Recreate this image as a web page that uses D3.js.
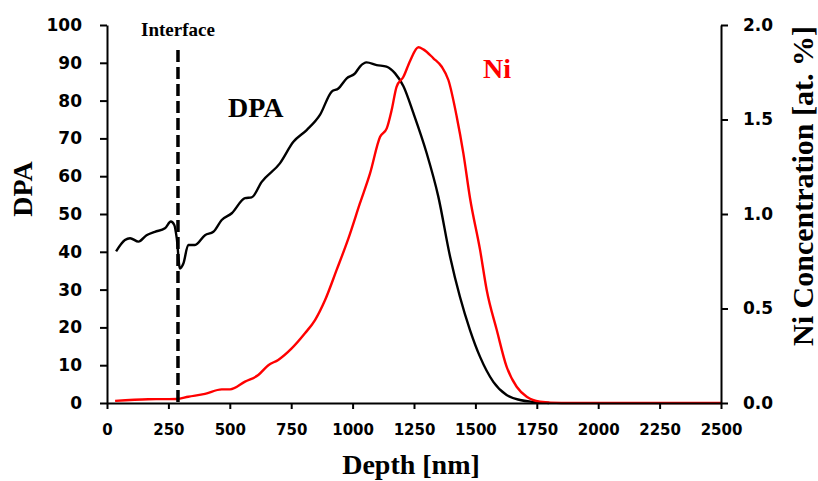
<!DOCTYPE html>
<html>
<head>
<meta charset="utf-8">
<script src="https://cdn.jsdelivr.net/npm/d3@7"></script>
<style>
  html, body { margin: 0; padding: 0; background: #fff; }
  svg { display: block; }
  .tick text { font-family: "DejaVu Sans", sans-serif; font-weight: bold; fill: #000; }
  .serif { font-family: "Liberation Serif", "Times New Roman", serif; font-weight: bold; }
</style>
</head>
<body>
<svg id="chart" width="818" height="481"></svg>
<script>
// Displacement damage (DPA) profile vs depth
const dpaDepth = [37, 73, 94, 128, 161, 195, 236, 260, 274, 284, 297, 311, 331, 358, 399, 433, 467, 508, 562, 589, 630,
  704, 759, 813, 867, 915, 942, 976, 1010, 1030, 1057, 1098, 1138, 1173, 1207, 1248, 1302, 1349, 1397, 1437, 1478,
  1519, 1573, 1627, 1682, 1735, 1800];
const dpaValues = [40.1, 43.1, 43.6, 42.7, 44.4, 45.3, 46.2, 48.0, 47.1, 43.6, 35.6, 36.9, 41.8, 41.8, 44.4, 45.3, 48.4,
  50.2, 54.2, 54.4, 58.5, 63.4, 69.1, 72.2, 76.2, 82.4, 83.2, 85.9, 87.2, 89.0, 90.1, 89.4, 89.0, 87.2, 83.8, 76.6,
  66.0, 54.6, 38.7, 28.1, 19.3, 12.2, 5.6, 2.1, 0.8, 0.3, 0];

// Implanted Ni concentration (at. %) vs depth
const niDepth = [33, 168, 284, 331, 399, 467, 501, 562, 616, 657, 697, 752, 806, 847, 888, 935, 983, 1030, 1071, 1112,
  1139, 1159, 1179, 1207, 1234, 1268, 1288, 1329, 1363, 1390, 1424, 1451, 1478, 1519, 1546, 1587, 1627, 1668, 1709,
  1763, 1850, 2500];
const niValues = [0.011, 0.02, 0.021, 0.033, 0.048, 0.072, 0.072, 0.113, 0.148, 0.2, 0.228, 0.289, 0.369, 0.439, 0.545,
  0.704, 0.871, 1.057, 1.215, 1.409, 1.453, 1.55, 1.673, 1.726, 1.81, 1.882, 1.871, 1.824, 1.779, 1.709, 1.515, 1.321,
  1.085, 0.81, 0.598, 0.386, 0.192, 0.086, 0.033, 0.007, 0, 0];

const interfaceDepth = 289;

const xTicks = [0, 250, 500, 750, 1000, 1250, 1500, 1750, 2000, 2250, 2500];
const dpaTicks = [0, 10, 20, 30, 40, 50, 60, 70, 80, 90, 100];
const niTicks = [0, 0.5, 1.0, 1.5, 2.0];

const svg = d3.select("#chart");
const plotLeft = 107, plotRight = 721, plotTop = 25, plotBottom = 403;

const x = d3.scaleLinear().domain([0, 2500]).range([plotLeft, plotRight]);
const yL = d3.scaleLinear().domain([0, 100]).range([plotBottom, plotTop]);
const yR = d3.scaleLinear().domain([0, 2]).range([plotBottom, plotTop]);

svg.append("rect").attr("width", 818).attr("height", 481).attr("fill", "#fff");

// curves
const dpaLine = d3.line()
  .x((d, i) => x(dpaDepth[i]))
  .y(d => yL(d))
  .curve(d3.curveMonotoneX);
const niLine = d3.line()
  .x((d, i) => x(niDepth[i]))
  .y(d => yR(d))
  .curve(d3.curveMonotoneX);

svg.append("path").datum(dpaValues).attr("d", dpaLine)
  .attr("fill", "none").attr("stroke", "#000").attr("stroke-width", 2.4).attr("stroke-linejoin", "round");
svg.append("path").datum(niValues).attr("d", niLine)
  .attr("fill", "none").attr("stroke", "#ff0000").attr("stroke-width", 2.4).attr("stroke-linejoin", "round");

// interface marker
svg.append("line")
  .attr("x1", x(interfaceDepth)).attr("x2", x(interfaceDepth))
  .attr("y1", 50).attr("y2", plotBottom)
  .attr("stroke", "#000").attr("stroke-width", 3.5).attr("stroke-dasharray", "12,5");

// axes
function styleAxis(g) {
  g.select(".domain").attr("stroke", "#000").attr("stroke-width", 2);
  g.selectAll(".tick line").attr("stroke", "#000").attr("stroke-width", 2);
}

svg.append("g").attr("transform", `translate(0,${plotBottom})`)
  .call(d3.axisBottom(x).tickValues(xTicks).tickSize(6).tickSizeOuter(0).tickPadding(15).tickFormat(d3.format("d")))
  .call(styleAxis)
  .call(g => g.selectAll(".tick text").style("font-size", "15px"));

svg.append("g").attr("transform", `translate(${plotLeft},0)`)
  .call(d3.axisLeft(yL).tickValues(dpaTicks).tickSize(7).tickSizeOuter(0).tickPadding(18).tickFormat(d3.format("d")))
  .call(styleAxis)
  .call(g => g.selectAll(".tick text").style("font-size", "17px"));

svg.append("g").attr("transform", `translate(${plotRight},0)`)
  .call(d3.axisRight(yR).tickValues(niTicks).tickSize(7).tickSizeOuter(0).tickPadding(15).tickFormat(d3.format(".1f")))
  .call(styleAxis)
  .call(g => g.selectAll(".tick text").style("font-size", "17px"));

// titles and labels
svg.append("text").attr("class", "serif")
  .attr("x", (plotLeft + plotRight) / 2 - 3).attr("y", 474).attr("text-anchor", "middle")
  .style("font-size", "28px").text("Depth [nm]");

svg.append("text").attr("class", "serif")
  .attr("transform", "translate(32,189) rotate(-90)").attr("text-anchor", "middle")
  .style("font-size", "28px").text("DPA");

svg.append("text").attr("class", "serif")
  .attr("transform", "translate(813,186) rotate(-90)").attr("text-anchor", "middle")
  .style("font-size", "30px").text("Ni Concentration [at. %]");

svg.append("text").attr("class", "serif")
  .attr("x", x(interfaceDepth)).attr("y", 36).attr("text-anchor", "middle")
  .style("font-size", "19px").text("Interface");

svg.append("text").attr("class", "serif")
  .attr("x", 228).attr("y", 117)
  .style("font-size", "28px").text("DPA");

svg.append("text").attr("class", "serif")
  .attr("x", 483).attr("y", 78).attr("fill", "#ff0000")
  .style("font-size", "28px").text("Ni");
</script>
</body>
</html>
